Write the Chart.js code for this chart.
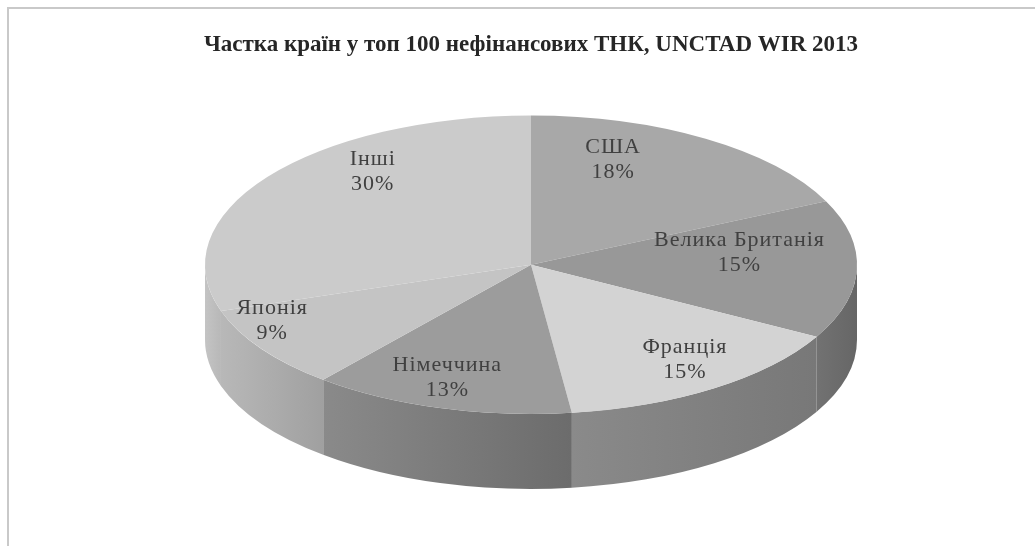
<!DOCTYPE html>
<html lang="uk">
<head>
<meta charset="utf-8">
<title>Частка країн у топ 100 нефінансових ТНК</title>
<script src="https://cdn.jsdelivr.net/npm/chart.js@4/dist/chart.umd.min.js"></script>
<style>
  html, body { margin: 0; padding: 0; background: #fff; }
  #wrap { position: relative; width: 1035px; height: 546px; overflow: hidden; }
  #frame {
    position: absolute; left: 7px; top: 7px; right: -10px; bottom: -10px;
    border-left: 2px solid #c9c9c9; border-top: 2px solid #c9c9c9;
  }
  canvas { position: absolute; left: 0; top: 0; }
</style>
</head>
<body>
<div id="wrap">
  <div id="frame"></div>
  <canvas id="pie" width="1035" height="546"></canvas>
</div>
<script>
// дані
const countries = ["США", "Велика Британія", "Франція", "Німеччина", "Японія", "Інші"];
const shares = [18, 15, 15, 13, 9, 30];

// кольори (верх і бічна стінка)
const topColors = ["#a8a8a8", "#989898", "#d3d3d3", "#9c9c9c", "#c4c4c4", "#cbcbcb"];
const sideColors = [
  ["#8c8c8c", "#7a7a7a"],
  ["#727272", "#666666"],
  ["#8a8a8a", "#787878"],
  ["#8a8a8a", "#6c6c6c"],
  ["#b8b8b8", "#a0a0a0"],
  ["#c4c4c4", "#b8b8b8"]
];
// де ставити підписи (частка радіуса по x та y)
const labelKx = [0.47, 0.64, 0.84, 0.92, 0.96, 0.6];
const labelKy = [0.72, 0.6, 0.89, 0.89, 0.84, 0.9];

const RX = 326;      // горизонтальний радіус еліпса
const DEPTH = 75;    // товщина «пирога»
const LABEL_SHIFT = -15;

const pie3d = {
  id: "pie3d",
  beforeDatasetsDraw(chart) {
    const ctx = chart.ctx;
    const meta = chart.getDatasetMeta(0);
    meta.data.forEach((arc, i) => {
      const { x, y, startAngle, endAngle, outerRadius } = arc.getProps(["x", "y", "startAngle", "endAngle", "outerRadius"], true);
      const a1 = Math.max(startAngle, 0);
      const a2 = Math.min(endAngle, Math.PI);
      if (a2 <= a1) return;
      const ry = outerRadius;
      const xr = x + RX * Math.cos(a1);
      const xl = x + RX * Math.cos(a2);
      const g = ctx.createLinearGradient(xl, 0, xr, 0);
      g.addColorStop(0, sideColors[i][0]);
      g.addColorStop(1, sideColors[i][1]);
      ctx.save();
      ctx.beginPath();
      ctx.ellipse(x, y, RX, ry, 0, a1, a2, false);
      ctx.lineTo(x + RX * Math.cos(a2), y + DEPTH + ry * Math.sin(a2));
      ctx.ellipse(x, y + DEPTH, RX, ry, 0, a2, a1, true);
      ctx.closePath();
      ctx.fillStyle = g;
      ctx.fill();
      ctx.restore();
    });
    const c = meta.data[0];
    ctx.save();
    ctx.translate(c.x, c.y);
    ctx.scale(RX / c.outerRadius, 1);
    ctx.translate(-c.x, -c.y);
  },
  afterDatasetsDraw(chart) {
    const ctx = chart.ctx;
    ctx.restore();
    const meta = chart.getDatasetMeta(0);
    const total = shares.reduce((s, v) => s + v, 0);
    ctx.save();
    ctx.font = "22px 'Liberation Serif', 'DejaVu Serif', serif";
    ctx.letterSpacing = "1px";
    ctx.fillStyle = "#404040";
    ctx.textAlign = "center";
    ctx.textBaseline = "middle";
    meta.data.forEach((arc, i) => {
      const mid = (arc.startAngle + arc.endAngle) / 2;
      const lx = arc.x + labelKx[i] * RX * Math.cos(mid);
      const ly = arc.y + LABEL_SHIFT + labelKy[i] * arc.outerRadius * Math.sin(mid);
      const pct = Math.round(shares[i] / total * 100) + "%";
      ctx.fillText(countries[i], lx, ly - 12);
      ctx.fillText(pct, lx, ly + 13);
    });
    ctx.restore();
  }
};

new Chart(document.getElementById("pie"), {
  type: "pie",
  data: {
    labels: countries,
    datasets: [{
      data: shares,
      backgroundColor: topColors,
      borderWidth: 0,
      clip: false
    }]
  },
  options: {
    responsive: false,
    animation: false,
    events: [],
    layout: { padding: { left: 27, right: 0, top: 0, bottom: 132 } },
    plugins: {
      legend: { display: false },
      tooltip: { enabled: false },
      title: {
        display: true,
        text: "Частка країн у топ 100 нефінансових ТНК, UNCTAD WIR 2013",
        color: "#262626",
        font: { family: "'Liberation Serif', serif", size: 23, weight: "bold" },
        padding: { top: 31, bottom: 57 }
      }
    }
  },
  plugins: [pie3d]
});
</script>
</body>
</html>
